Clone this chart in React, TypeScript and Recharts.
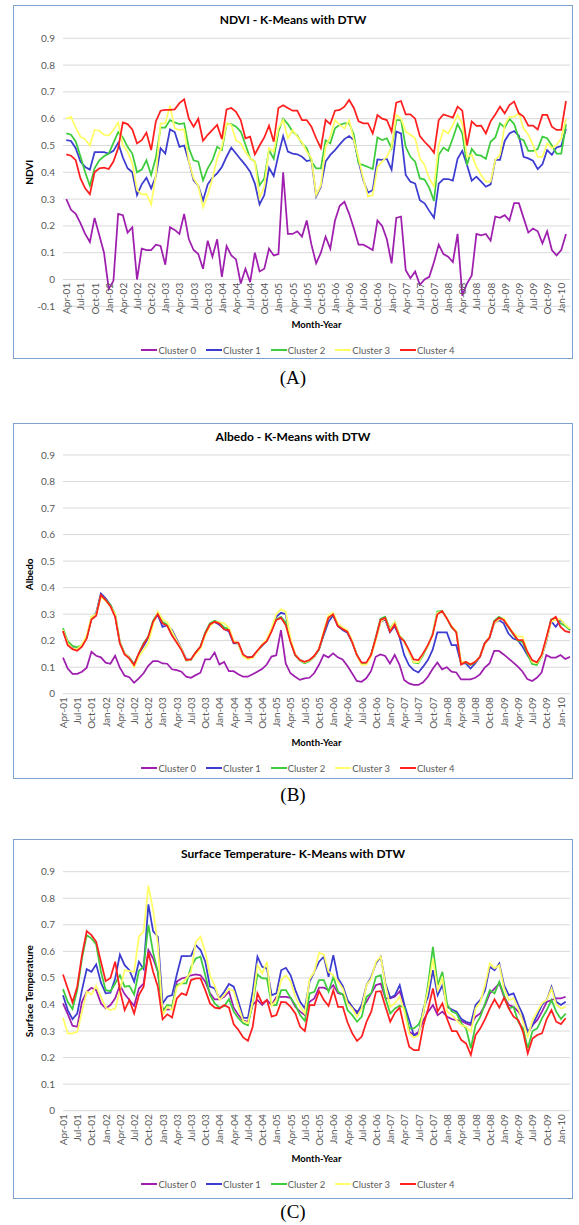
import { LineChart, Line, XAxis, YAxis, CartesianGrid, Legend } from "recharts";

// month labels, first point = Apr-01
const MONTHS = ["Jan", "Feb", "Mar", "Apr", "May", "Jun", "Jul", "Aug", "Sep", "Oct", "Nov", "Dec"];
const monthLabels = (n: number) =>
  Array.from({ length: n }, (_, i) => {
    const k = 3 + i;
    return `${MONTHS[k % 12]}-${String(1 + Math.floor(k / 12)).padStart(2, "0")}`;
  });

const CLUSTERS = ["Cluster 0", "Cluster 1", "Cluster 2", "Cluster 3", "Cluster 4"];
const COLORS = ["#9e1fae", "#3c3cd0", "#3ccc3c", "#ffff66", "#ff1f1f"];

const TICKS_NDVI = [-0.1, 0, 0.1, 0.2, 0.3, 0.4, 0.5, 0.6, 0.7, 0.8, 0.9];
const TICKS_POS = [0, 0.1, 0.2, 0.3, 0.4, 0.5, 0.6, 0.7, 0.8, 0.9];

// (A) NDVI
const ndvi0 = [0.30,0.26,0.245,0.21,0.17,0.14,0.23,0.165,0.10,-0.035,-0.005,0.245,0.24,0.175,0.195,0.00,0.115,0.11,0.11,0.13,0.125,0.055,0.195,0.185,0.17,0.245,0.15,0.11,0.095,0.04,0.145,0.085,0.15,0.01,0.125,0.09,0.075,-0.015,0.04,-0.01,0.10,0.03,0.04,0.115,0.09,0.095,0.40,0.17,0.17,0.18,0.16,0.22,0.13,0.06,0.10,0.16,0.115,0.22,0.275,0.29,0.245,0.19,0.13,0.13,0.12,0.11,0.22,0.20,0.15,0.06,0.23,0.235,0.035,0.005,0.03,-0.02,0.00,0.01,0.065,0.13,0.095,0.085,0.065,0.17,-0.06,-0.015,0.015,0.17,0.165,0.17,0.145,0.235,0.23,0.24,0.22,0.285,0.285,0.23,0.175,0.19,0.18,0.135,0.18,0.11,0.09,0.11,0.17];
const ndvi1 = [0.52,0.517,0.49,0.44,0.42,0.41,0.475,0.475,0.475,0.47,0.48,0.51,0.455,0.415,0.40,0.315,0.355,0.38,0.34,0.385,0.49,0.47,0.56,0.55,0.495,0.50,0.44,0.37,0.35,0.295,0.355,0.38,0.396,0.42,0.458,0.492,0.47,0.448,0.427,0.402,0.358,0.28,0.315,0.417,0.386,0.465,0.535,0.477,0.47,0.467,0.458,0.442,0.446,0.31,0.346,0.44,0.465,0.483,0.504,0.524,0.535,0.52,0.44,0.37,0.324,0.334,0.448,0.446,0.45,0.41,0.552,0.545,0.39,0.365,0.358,0.296,0.284,0.256,0.23,0.358,0.375,0.375,0.369,0.45,0.48,0.427,0.369,0.384,0.365,0.346,0.355,0.446,0.446,0.517,0.545,0.554,0.537,0.458,0.452,0.443,0.412,0.43,0.483,0.465,0.493,0.498,0.562];
const ndvi2 = [0.545,0.54,0.515,0.46,0.40,0.35,0.415,0.445,0.46,0.47,0.51,0.55,0.53,0.495,0.47,0.40,0.41,0.445,0.39,0.455,0.567,0.567,0.595,0.586,0.58,0.583,0.49,0.445,0.44,0.37,0.415,0.445,0.495,0.483,0.58,0.58,0.57,0.552,0.504,0.452,0.44,0.352,0.377,0.483,0.45,0.552,0.60,0.58,0.552,0.537,0.508,0.49,0.44,0.415,0.415,0.52,0.508,0.564,0.577,0.583,0.583,0.54,0.433,0.427,0.42,0.412,0.53,0.52,0.527,0.49,0.595,0.595,0.495,0.458,0.44,0.377,0.373,0.342,0.293,0.465,0.492,0.48,0.527,0.58,0.545,0.427,0.487,0.465,0.462,0.45,0.514,0.53,0.583,0.567,0.60,0.58,0.527,0.52,0.48,0.48,0.487,0.533,0.527,0.50,0.47,0.47,0.58];
const ndvi3 = [0.60,0.607,0.567,0.533,0.523,0.50,0.558,0.555,0.54,0.537,0.558,0.586,0.50,0.477,0.433,0.334,0.318,0.319,0.28,0.39,0.583,0.583,0.649,0.564,0.558,0.56,0.44,0.377,0.35,0.27,0.315,0.377,0.452,0.495,0.583,0.577,0.52,0.508,0.477,0.452,0.44,0.305,0.346,0.49,0.477,0.564,0.595,0.527,0.558,0.533,0.512,0.477,0.452,0.315,0.352,0.495,0.533,0.595,0.577,0.564,0.595,0.52,0.452,0.377,0.309,0.315,0.42,0.44,0.458,0.495,0.614,0.60,0.552,0.54,0.527,0.452,0.427,0.377,0.346,0.502,0.558,0.545,0.577,0.614,0.583,0.458,0.465,0.42,0.39,0.365,0.365,0.446,0.465,0.577,0.607,0.607,0.62,0.564,0.54,0.502,0.458,0.458,0.508,0.49,0.502,0.527,0.60];
const ndvi4 = [0.467,0.462,0.445,0.377,0.34,0.318,0.40,0.415,0.417,0.412,0.44,0.49,0.586,0.58,0.56,0.508,0.52,0.548,0.483,0.59,0.63,0.633,0.633,0.635,0.658,0.672,0.60,0.57,0.60,0.518,0.54,0.558,0.577,0.524,0.635,0.64,0.626,0.595,0.527,0.533,0.467,0.50,0.53,0.574,0.514,0.64,0.65,0.64,0.63,0.63,0.595,0.595,0.57,0.527,0.49,0.595,0.58,0.63,0.633,0.645,0.67,0.64,0.59,0.583,0.583,0.545,0.614,0.60,0.595,0.552,0.66,0.666,0.616,0.616,0.60,0.535,0.514,0.496,0.473,0.595,0.616,0.61,0.604,0.645,0.63,0.50,0.59,0.573,0.574,0.545,0.59,0.616,0.645,0.62,0.651,0.664,0.62,0.608,0.574,0.574,0.56,0.614,0.614,0.57,0.558,0.558,0.666];

// (B) Albedo
const albedo0 = [0.136,0.095,0.075,0.075,0.083,0.098,0.158,0.143,0.137,0.117,0.113,0.143,0.098,0.068,0.062,0.041,0.058,0.077,0.105,0.123,0.123,0.114,0.113,0.092,0.089,0.083,0.064,0.06,0.07,0.079,0.129,0.129,0.155,0.11,0.12,0.085,0.085,0.073,0.064,0.064,0.073,0.083,0.093,0.11,0.14,0.145,0.24,0.114,0.077,0.064,0.052,0.058,0.06,0.077,0.108,0.146,0.137,0.152,0.137,0.129,0.105,0.077,0.048,0.045,0.058,0.085,0.139,0.148,0.142,0.114,0.146,0.11,0.052,0.039,0.033,0.033,0.043,0.064,0.093,0.118,0.092,0.1,0.083,0.08,0.054,0.054,0.054,0.06,0.073,0.098,0.114,0.161,0.161,0.148,0.133,0.118,0.102,0.083,0.055,0.048,0.06,0.08,0.146,0.136,0.136,0.146,0.131,0.139];
const albedo1 = [0.238,0.19,0.172,0.168,0.18,0.212,0.283,0.305,0.378,0.36,0.335,0.295,0.19,0.15,0.135,0.11,0.15,0.18,0.21,0.27,0.298,0.252,0.258,0.24,0.205,0.17,0.13,0.128,0.155,0.175,0.225,0.26,0.27,0.26,0.245,0.235,0.19,0.19,0.145,0.137,0.14,0.16,0.18,0.2,0.24,0.29,0.305,0.3,0.2,0.148,0.128,0.118,0.125,0.14,0.165,0.22,0.27,0.295,0.255,0.24,0.23,0.195,0.147,0.115,0.113,0.145,0.205,0.27,0.28,0.232,0.255,0.215,0.146,0.108,0.089,0.08,0.102,0.127,0.165,0.231,0.231,0.231,0.183,0.183,0.114,0.114,0.095,0.114,0.139,0.19,0.211,0.265,0.278,0.265,0.227,0.208,0.202,0.177,0.146,0.12,0.118,0.139,0.196,0.274,0.252,0.278,0.259,0.24];
const albedo2 = [0.247,0.198,0.18,0.175,0.183,0.21,0.285,0.3,0.37,0.355,0.335,0.3,0.195,0.152,0.137,0.11,0.15,0.19,0.215,0.275,0.305,0.27,0.26,0.222,0.195,0.168,0.125,0.127,0.155,0.178,0.23,0.265,0.275,0.268,0.25,0.245,0.195,0.19,0.145,0.135,0.138,0.16,0.182,0.2,0.24,0.28,0.29,0.27,0.2,0.145,0.125,0.115,0.122,0.14,0.165,0.225,0.285,0.298,0.26,0.245,0.236,0.198,0.147,0.113,0.113,0.144,0.212,0.282,0.29,0.245,0.27,0.22,0.2,0.16,0.118,0.115,0.145,0.18,0.225,0.31,0.312,0.285,0.25,0.235,0.115,0.118,0.108,0.118,0.14,0.19,0.213,0.275,0.29,0.28,0.25,0.224,0.2,0.195,0.15,0.112,0.108,0.14,0.205,0.28,0.283,0.265,0.255,0.24];
const albedo3 = [0.24,0.19,0.17,0.168,0.185,0.22,0.29,0.3,0.365,0.35,0.33,0.3,0.19,0.15,0.135,0.1,0.14,0.165,0.19,0.26,0.31,0.28,0.27,0.235,0.2,0.17,0.125,0.128,0.15,0.17,0.22,0.255,0.27,0.27,0.265,0.25,0.2,0.19,0.14,0.13,0.135,0.158,0.185,0.205,0.245,0.3,0.318,0.31,0.21,0.15,0.127,0.118,0.125,0.14,0.17,0.235,0.295,0.305,0.265,0.25,0.24,0.2,0.145,0.11,0.11,0.14,0.2,0.27,0.285,0.24,0.27,0.22,0.195,0.16,0.12,0.118,0.15,0.18,0.22,0.305,0.31,0.285,0.255,0.235,0.12,0.12,0.113,0.12,0.14,0.185,0.215,0.265,0.28,0.285,0.255,0.23,0.215,0.215,0.16,0.12,0.115,0.14,0.2,0.27,0.28,0.28,0.26,0.245];
const albedo4 = [0.236,0.183,0.168,0.162,0.177,0.208,0.28,0.294,0.372,0.353,0.33,0.29,0.19,0.148,0.133,0.108,0.152,0.187,0.215,0.271,0.30,0.265,0.256,0.219,0.193,0.165,0.127,0.129,0.155,0.177,0.227,0.261,0.271,0.265,0.242,0.24,0.193,0.193,0.148,0.136,0.139,0.162,0.183,0.198,0.234,0.278,0.286,0.259,0.196,0.146,0.127,0.12,0.127,0.142,0.168,0.227,0.286,0.299,0.255,0.244,0.234,0.196,0.146,0.117,0.117,0.146,0.209,0.278,0.286,0.234,0.261,0.215,0.198,0.165,0.129,0.127,0.152,0.183,0.221,0.299,0.312,0.284,0.252,0.231,0.11,0.12,0.11,0.12,0.139,0.19,0.211,0.271,0.286,0.278,0.252,0.227,0.202,0.202,0.158,0.127,0.118,0.146,0.211,0.278,0.29,0.252,0.236,0.231];

// (C) Surface temperature
const temp0 = [0.404,0.364,0.32,0.316,0.41,0.448,0.463,0.454,0.404,0.385,0.398,0.423,0.473,0.439,0.417,0.395,0.46,0.479,0.605,0.573,0.523,0.385,0.381,0.383,0.486,0.498,0.502,0.51,0.513,0.51,0.486,0.442,0.419,0.419,0.429,0.448,0.388,0.36,0.339,0.335,0.398,0.417,0.398,0.417,0.398,0.429,0.429,0.429,0.425,0.391,0.373,0.36,0.41,0.423,0.463,0.463,0.454,0.473,0.442,0.438,0.41,0.388,0.373,0.385,0.41,0.442,0.473,0.479,0.423,0.423,0.43,0.45,0.391,0.297,0.285,0.297,0.341,0.373,0.398,0.36,0.373,0.354,0.345,0.341,0.338,0.329,0.322,0.354,0.366,0.398,0.442,0.46,0.479,0.429,0.398,0.391,0.373,0.348,0.291,0.322,0.341,0.373,0.41,0.417,0.423,0.423,0.429];
const temp1 = [0.435,0.379,0.345,0.366,0.454,0.533,0.523,0.551,0.482,0.442,0.444,0.498,0.588,0.548,0.529,0.486,0.561,0.533,0.777,0.676,0.655,0.404,0.429,0.435,0.513,0.582,0.582,0.583,0.624,0.605,0.561,0.467,0.46,0.423,0.448,0.477,0.467,0.41,0.35,0.35,0.448,0.58,0.542,0.536,0.435,0.442,0.529,0.538,0.51,0.454,0.41,0.385,0.486,0.523,0.561,0.58,0.504,0.586,0.498,0.47,0.417,0.391,0.366,0.40,0.473,0.504,0.555,0.58,0.479,0.425,0.435,0.473,0.398,0.341,0.282,0.291,0.385,0.429,0.529,0.435,0.473,0.391,0.381,0.373,0.345,0.335,0.329,0.398,0.417,0.454,0.542,0.529,0.555,0.473,0.435,0.442,0.398,0.36,0.297,0.322,0.36,0.398,0.417,0.467,0.41,0.398,0.41];
const temp2 = [0.458,0.41,0.383,0.454,0.573,0.661,0.649,0.626,0.523,0.454,0.45,0.479,0.51,0.467,0.47,0.438,0.526,0.542,0.70,0.596,0.523,0.375,0.398,0.395,0.473,0.479,0.479,0.542,0.573,0.58,0.51,0.435,0.404,0.388,0.394,0.42,0.373,0.348,0.329,0.322,0.404,0.513,0.498,0.498,0.398,0.398,0.454,0.454,0.425,0.398,0.36,0.338,0.442,0.448,0.492,0.492,0.448,0.504,0.448,0.438,0.379,0.36,0.335,0.354,0.429,0.442,0.504,0.51,0.423,0.366,0.385,0.395,0.388,0.31,0.31,0.325,0.366,0.479,0.617,0.473,0.523,0.40,0.373,0.366,0.329,0.31,0.235,0.322,0.354,0.404,0.454,0.442,0.486,0.435,0.385,0.391,0.335,0.31,0.235,0.30,0.31,0.348,0.379,0.417,0.373,0.345,0.366];
const temp3 = [0.35,0.291,0.291,0.297,0.373,0.448,0.438,0.47,0.429,0.388,0.379,0.385,0.454,0.529,0.526,0.523,0.655,0.674,0.847,0.755,0.626,0.36,0.391,0.379,0.467,0.479,0.498,0.523,0.636,0.655,0.598,0.51,0.47,0.417,0.435,0.46,0.45,0.391,0.338,0.329,0.41,0.548,0.517,0.561,0.395,0.417,0.492,0.51,0.486,0.429,0.391,0.366,0.496,0.523,0.595,0.588,0.523,0.51,0.486,0.46,0.404,0.385,0.354,0.385,0.473,0.498,0.561,0.58,0.473,0.391,0.405,0.43,0.373,0.291,0.275,0.285,0.373,0.46,0.573,0.454,0.498,0.373,0.36,0.341,0.322,0.316,0.297,0.385,0.41,0.473,0.555,0.536,0.548,0.46,0.417,0.423,0.385,0.335,0.279,0.341,0.373,0.404,0.417,0.46,0.40,0.385,0.391];
const temp4 = [0.513,0.46,0.408,0.467,0.586,0.676,0.661,0.636,0.561,0.488,0.50,0.561,0.454,0.379,0.417,0.366,0.435,0.467,0.596,0.523,0.467,0.344,0.363,0.351,0.423,0.442,0.435,0.492,0.498,0.498,0.454,0.404,0.388,0.385,0.398,0.388,0.325,0.304,0.276,0.263,0.316,0.442,0.404,0.417,0.354,0.36,0.41,0.408,0.391,0.366,0.316,0.30,0.398,0.398,0.45,0.417,0.395,0.454,0.391,0.391,0.332,0.291,0.263,0.279,0.335,0.373,0.448,0.45,0.391,0.335,0.369,0.388,0.31,0.241,0.228,0.228,0.322,0.385,0.46,0.373,0.404,0.345,0.30,0.30,0.266,0.253,0.21,0.285,0.31,0.345,0.385,0.419,0.388,0.425,0.385,0.354,0.341,0.297,0.216,0.272,0.285,0.291,0.345,0.379,0.335,0.326,0.348];

const FONT = "Lato, 'Open Sans', sans-serif";
const GRAY = "#595959";

const makeRows = (series: number[][]) =>
  monthLabels(series[0].length).map((m, i) => {
    const row: Record<string, string | number> = { m };
    series.forEach((s, k) => (row[`c${k}`] = s[i]));
    return row;
  });

const fmtTick = (v: number) => (v === 0 ? "0" : v.toFixed(1));

const MonthTick = (props: any) => {
  const { x, y, payload, shift } = props;
  const ty = y + shift;
  return (
    <text
      x={x}
      y={ty}
      transform={`rotate(-90 ${x} ${ty})`}
      textAnchor="end"
      dominantBaseline="central"
      fontSize={10}
      fill={GRAY}
      fontFamily={FONT}
    >
      {payload.value}
    </text>
  );
};

const LegendRow = () => (
  <div
    style={{
      display: "flex",
      justifyContent: "center",
      alignItems: "center",
      height: 16,
      paddingLeft: 12,
      fontFamily: FONT,
      fontSize: 9.5,
      color: GRAY,
    }}
  >
    {CLUSTERS.map((c, k) => (
      <span key={c} style={{ display: "flex", alignItems: "center", marginRight: k < 4 ? 10 : 0 }}>
        <span style={{ display: "inline-block", width: 16, height: 2, background: COLORS[k], marginRight: 1 }} />
        {c}
      </span>
    ))}
  </div>
);

type PanelProps = {
  top: number;
  height: number;
  title: string;
  titleY: number;
  yTitle: string;
  series: number[][];
  ticks: number[];
  plotTop: number;
  plotBottom: number;
  tickShift: number;
  padLeft: number;
  padRight: number;
};

const Panel = (p: PanelProps) => {
  const innerH = p.height - 2;
  const legendTop = 336;
  const midY = (p.plotTop + p.plotBottom) / 2;
  return (
    <div
      style={{
        position: "absolute",
        left: 13,
        top: p.top,
        width: 560,
        height: p.height,
        border: "1px solid #7da2ce",
        boxSizing: "border-box",
        background: "#fff",
      }}
    >
      <LineChart
        width={558}
        height={innerH}
        data={makeRows(p.series)}
        margin={{ top: p.plotTop, right: 2, bottom: innerH - 352, left: 0 }}
      >
        <CartesianGrid vertical={false} stroke="#d9d9d9" />
        <XAxis
          dataKey="m"
          interval={2}
          height={legendTop - p.plotBottom}
          axisLine={false}
          tickLine={false}
          tickSize={0}
          tickMargin={0}
          padding={{ left: p.padLeft, right: p.padRight }}
          tick={(t: any) => <MonthTick {...t} shift={p.tickShift} />}
          label={{
            content: () => (
              <text x={302.5} y={318.5} textAnchor="middle" dominantBaseline="central" fontSize={9.5} fontWeight={700} fontFamily={FONT} fill="#000">
                Month-Year
              </text>
            ),
          }}
        />
        <YAxis
          width={49}
          domain={[p.ticks[0], 0.9]}
          ticks={p.ticks}
          tickFormatter={fmtTick}
          axisLine={false}
          tickLine={false}
          tick={{ fontSize: 10, fill: GRAY, fontFamily: FONT }}
          label={{
            content: () => (
              <text x={15} y={midY} transform={`rotate(-90 15 ${midY})`} textAnchor="middle" dominantBaseline="central" fontSize={10} fontWeight={700} fontFamily={FONT} fill="#000">
                {p.yTitle}
              </text>
            ),
          }}
        />
        <Legend verticalAlign="bottom" content={() => <LegendRow />} />
        {CLUSTERS.map((c, k) => (
          <Line
            key={c}
            type="linear"
            dataKey={`c${k}`}
            name={c}
            stroke={COLORS[k]}
            strokeWidth={1.75}
            dot={false}
            isAnimationActive={false}
          />
        ))}
      </LineChart>
      <div
        style={{
          position: "absolute",
          left: 0,
          top: p.titleY - 8,
          width: "100%",
          height: 16,
          lineHeight: "16px",
          textAlign: "center",
          fontFamily: FONT,
          fontWeight: 700,
          fontSize: 12,
          color: "#000",
        }}
      >
        {p.title}
      </div>
    </div>
  );
};

const Caption = ({ text, top }: { text: string; top: number }) => (
  <div
    style={{
      position: "absolute",
      left: 13,
      top,
      width: 560,
      height: 24,
      lineHeight: "24px",
      textAlign: "center",
      fontFamily: "'Liberation Serif', 'Times New Roman', serif",
      fontSize: 19,
      color: "#000",
    }}
  >
    {text}
  </div>
);

export default function App() {
  return (
    <div style={{ position: "absolute", left: 0, top: 0, width: 579, height: 1225, background: "#fff" }}>
      <Panel
        top={5}
        height={354}
        title="NDVI - K-Means with DTW"
        titleY={14}
        yTitle="NDVI"
        series={[ndvi0, ndvi1, ndvi2, ndvi3, ndvi4]}
        ticks={TICKS_NDVI}
        plotTop={32.3}
        plotBottom={300.3}
        tickShift={-23.5}
        padLeft={3.3}
        padRight={4}
      />
      <Caption text="(A)" top={366} />
      <Panel
        top={423}
        height={356}
        title="Albedo - K-Means with DTW"
        titleY={12.7}
        yTitle="Albedo"
        series={[albedo0, albedo1, albedo2, albedo3, albedo4]}
        ticks={TICKS_POS}
        plotTop={31}
        plotBottom={269.7}
        tickShift={3.5}
        padLeft={0}
        padRight={0}
      />
      <Caption text="(B)" top={783} />
      <Panel
        top={839}
        height={360}
        title="Surface Temperature- K-Means with DTW"
        titleY={14}
        yTitle="Surface Temperature"
        series={[temp0, temp1, temp2, temp3, temp4]}
        ticks={TICKS_POS}
        plotTop={31.7}
        plotBottom={270.7}
        tickShift={3.5}
        padLeft={0}
        padRight={4.3}
      />
      <Caption text="(C)" top={1200} />
    </div>
  );
}
